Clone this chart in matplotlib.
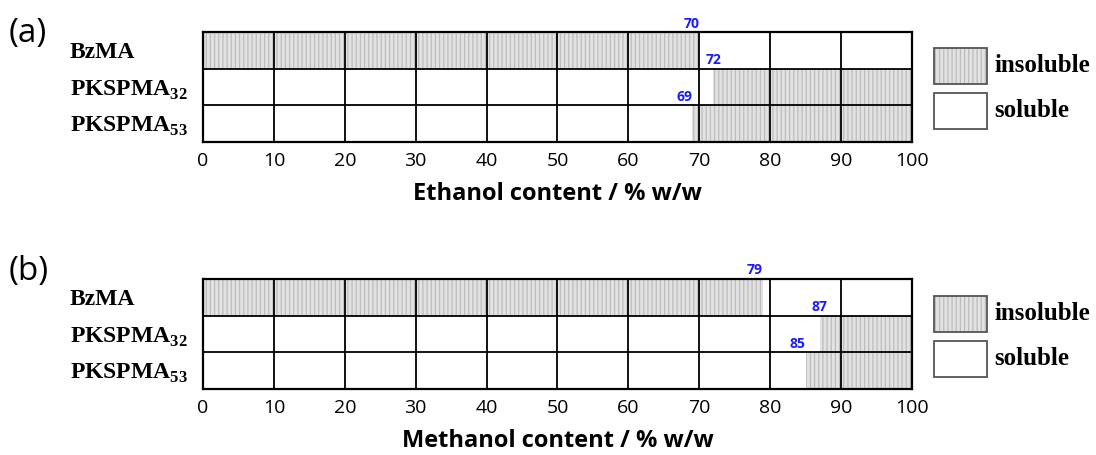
import matplotlib
matplotlib.use("Agg")
import matplotlib.pyplot as plt
from matplotlib.patches import Rectangle

plt.rcParams.update({
    "font.family": "Open Sans",
    "mathtext.fontset": "custom",
    "mathtext.bf": "Liberation Serif:bold",
    "mathtext.rm": "Liberation Serif:bold",
    "hatch.linewidth": 0.9,
})

# --- data ---
samples = ["BzMA", "PKSPMA$_{32}$", "PKSPMA$_{53}$"]
# insoluble region [start, end] in % w/w of alcohol
ethanol_start = [0, 72, 69]
ethanol_end = [70, 100, 100]
ethanol_marks = [70, 72, 69]
methanol_start = [0, 87, 85]
methanol_end = [79, 100, 100]
methanol_marks = [79, 87, 85]
xticks = [0, 10, 20, 30, 40, 50, 60, 70, 80, 90, 100]

FILL = "#e2e2e2"
HATCH = "||||"
HATCH_COL = "#bdbdbd"


def draw_panel(ax, starts, ends, marks, xlabel, ha_list):
    for i, (s, e) in enumerate(zip(starts, ends)):
        ax.add_patch(Rectangle((s, i), e - s, 1, facecolor=FILL,
                               hatch=HATCH, edgecolor=HATCH_COL, linewidth=0))
    for x in xticks[1:-1]:
        ax.axvline(x, color="black", lw=1.3)
    for y in [1, 2]:
        ax.axhline(y, color="black", lw=1.3)
    for i, (m, ha) in enumerate(zip(marks, ha_list)):
        ax.text(m, i - 0.04, str(m), color="#1a1aff", fontsize=10,
                fontweight="bold", ha=ha, va="bottom")
    ax.set_xlim(0, 100)
    ax.set_ylim(3, 0)
    ax.set_xticks(xticks)
    ax.set_yticks([0.5, 1.5, 2.5])
    ax.set_yticklabels(samples, family="Liberation Serif", fontweight="bold",
                       fontsize=17, ha="left")
    ax.tick_params(axis="y", length=0, pad=96)
    ax.tick_params(axis="x", length=0, pad=7, labelsize=14)
    ax.set_xlabel(xlabel, fontsize=17, fontweight="bold", labelpad=9)
    for sp in ax.spines.values():
        sp.set_linewidth(1.6)


fig = plt.figure(figsize=(10.96, 4.55), dpi=100)
ax1 = fig.add_axes([0.1852, 0.6879, 0.6469, 0.2418])
ax2 = fig.add_axes([0.1852, 0.1451, 0.6469, 0.2418])

draw_panel(ax1, ethanol_start, ethanol_end, ethanol_marks,
           "Ethanol content / % w/w", ["right", "center", "right"])
draw_panel(ax2, methanol_start, methanol_end, methanol_marks,
           "Methanol content / % w/w", ["right", "center", "right"])

fig.text(0.008, 0.927, "(a)", fontsize=24, va="center")
fig.text(0.008, 0.404, "(b)", fontsize=24, va="center")

# legend boxes
for y_ins, y_sol in [(0.8154, 0.7165), (0.2703, 0.1714)]:
    fig.patches.append(Rectangle((0.852, y_ins), 0.049, 0.079,
                                 transform=fig.transFigure, facecolor=FILL,
                                 hatch=HATCH, edgecolor=HATCH_COL, lw=0))
    fig.patches.append(Rectangle((0.852, y_ins), 0.049, 0.079,
                                 transform=fig.transFigure, facecolor="none",
                                 edgecolor="#555555", lw=1.3))
    fig.patches.append(Rectangle((0.852, y_sol), 0.049, 0.080,
                                 transform=fig.transFigure, facecolor="white",
                                 edgecolor="#555555", lw=1.3))
    fig.text(0.907, y_ins + 0.04, "insoluble", family="Liberation Serif",
             fontweight="bold", fontsize=18, va="center")
    fig.text(0.907, y_sol + 0.04, "soluble", family="Liberation Serif",
             fontweight="bold", fontsize=18, va="center")

fig.savefig("out.png", dpi=100)
